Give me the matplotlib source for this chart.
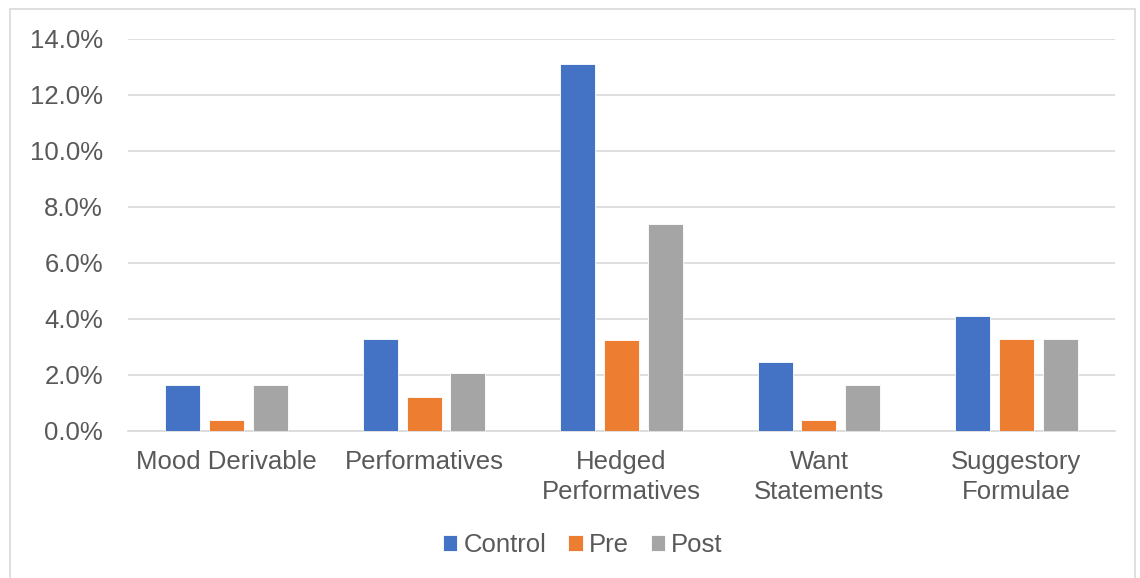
import numpy as np
import matplotlib
matplotlib.use("Agg")
from matplotlib import pyplot as plt
from matplotlib.ticker import FuncFormatter
from matplotlib.patches import Rectangle

categories = ["Mood Derivable", "Performatives", "Hedged\nPerformatives",
              "Want\nStatements", "Suggestory\nFormulae"]
control = [1.63, 3.29, 13.09, 2.45, 4.11]
pre = [0.41, 1.23, 3.26, 0.41, 3.28]
post = [1.65, 2.07, 7.39, 1.65, 3.30]

series = [("Control", control, "#4472C4"),
          ("Pre", pre, "#ED7D31"),
          ("Post", post, "#A5A5A5")]

plt.rcParams['font.family'] = ['Liberation Sans', 'DejaVu Sans']

fig = plt.figure(figsize=(11.4, 5.78), dpi=100)
ax = fig.add_axes([128 / 1140, 1 - 431 / 578, 987 / 1140, 392 / 578])

x = np.arange(len(categories))
width = 0.177
step = 0.222
for i, (name, vals, col) in enumerate(series):
    ax.bar(x + (i - 1) * step, vals, width, color=col, label=name,
           edgecolor="white", linewidth=0.6, zorder=3)

ax.set_xlim(-0.5, len(categories) - 0.5)
ax.set_ylim(0, 14)
ax.set_yticks(np.arange(0, 14.1, 2))
ax.yaxis.set_major_formatter(FuncFormatter(lambda v, p: f"{v:.1f}%"))
ax.set_xticks(x)
ax.set_xticklabels(categories, linespacing=1.3)
ax.grid(axis="y", color="#D9D9D9", linewidth=1.2, zorder=0)
for s in ["top", "right", "left"]:
    ax.spines[s].set_visible(False)
ax.spines["bottom"].set_color("#D9D9D9")
ax.spines["bottom"].set_linewidth(1.2)
ax.tick_params(axis="both", length=0, labelsize=18.5, colors="#595959")
ax.tick_params(axis="y", pad=18)
ax.tick_params(axis="x", pad=14)

fig.legend(loc="center", bbox_to_anchor=(583 / 1140, 1 - 545 / 578), ncol=3,
           frameon=False, fontsize=18.5, handlelength=0.55, handleheight=0.55,
           handletextpad=0.25, columnspacing=0.85, labelcolor="#595959")

fig.patches.append(Rectangle((10 / 1140, -0.01), 1125 / 1140, 1 - 9 / 578 + 0.01,
                             transform=fig.transFigure, fill=False,
                             edgecolor="#D9D9D9", linewidth=1.2))

fig.savefig("out.png", dpi=100)
